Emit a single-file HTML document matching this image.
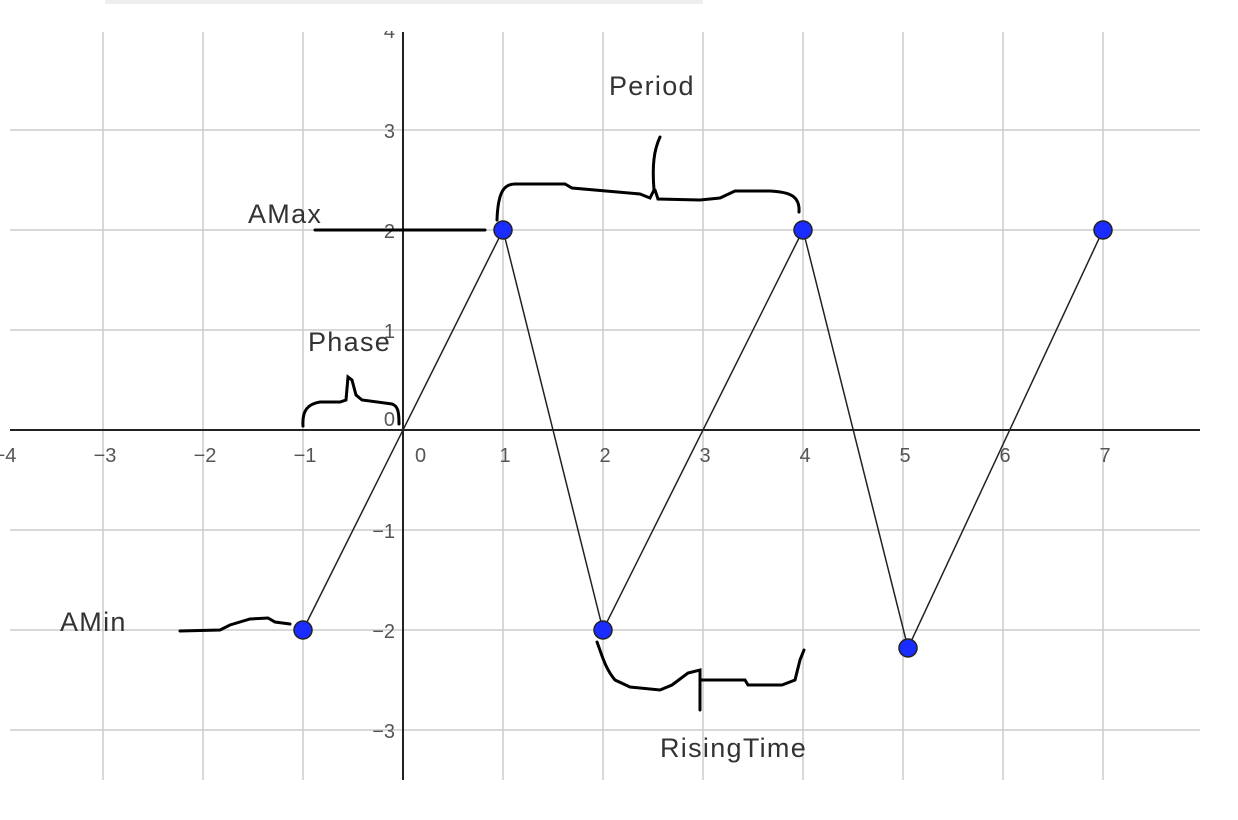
<!DOCTYPE html>
<html><head><meta charset="utf-8"><style>
html,body{margin:0;padding:0;background:#fff;}
svg{display:block;font-family:"Liberation Sans",sans-serif;}
</style></head><body>
<svg id="chart" width="1238" height="820">
<defs><clipPath id="plotclip"><rect x="0" y="31" width="1200" height="760"/></clipPath></defs>
<rect x="105" y="0" width="598" height="4" fill="#eeeeee"/>
<g id="grid"></g>
<g id="axes"></g>
<g id="ticks" clip-path="url(#plotclip)"></g>
<g id="series"></g>
<g fill="none" stroke="#000" stroke-width="3" stroke-linecap="round">
<path d="M315 230 L485 230"/>
<path d="M497 220 C498 190 505 184 515 184 L565 184 L572 188 L640 194 L650 198 L654 190 C652 165 654 150 660 137 M655 190 L658 199 L700 200 L720 198 L735 191 L770 191 C790 192 800 196 799 212"/>
<path d="M303 426 C302 410 308 404 320 402 L340 402 L346 400 L348 377 L352 380 L356 395 L362 400 L392 404 C398 406 399 412 399 424"/>
<path d="M180 631 L220 630 L230 625 L250 619 L268 618 L275 622 L290 624"/>
<path d="M597 642 C602 655 605 668 615 680 L630 687 L660 690 L672 685 L688 673 L700 670 L700 710 M700 680 L745 680 L748 685 L782 685 L795 680 L800 660 L804 650"/>
</g>
<g font-size="27" fill="#333" letter-spacing="1.3">
<text x="609" y="95">Period</text>
<text x="248" y="223">AMax</text>
<text x="308" y="351">Phase</text>
<text x="60" y="631">AMin</text>
<text x="660" y="757">RisingTime</text>
</g>
</svg>
<script>
const xTicks=[-4,-3,-2,-1,0,1,2,3,4,5,6,7,8];
const yTicks=[-3,-2,-1,0,1,2,3,4];
const pointX=[-1,1,2,4,5.05,7];
const pointY=[-2,2,-2,2,-2.18,2];
const NS="http://www.w3.org/2000/svg";
const X=v=>403+v*100, Y=v=>430-v*100;
function mk(tag,attrs,parent){const e=document.createElementNS(NS,tag);for(const k in attrs)e.setAttribute(k,attrs[k]);parent.appendChild(e);return e;}
const grid=document.getElementById('grid'),axes=document.getElementById('axes'),ticks=document.getElementById('ticks'),series=document.getElementById('series');
xTicks.forEach(t=>{if(t===0)return;const x=X(t);if(x<50||x>1195)return;
 const l=mk('line',{x1:x,x2:x,y1:32,y2:780,stroke:'#cccccc','stroke-width':1.5},grid);
 
 
});
yTicks.forEach(t=>{if(t===0)return;const y=Y(t);if(y<40)return;
 const l=mk('line',{x1:10,x2:1200,y1:y,y2:y,stroke:'#cccccc','stroke-width':1.5},grid);
 
 
});
const xa=mk('line',{x1:10,x2:1200,y1:Y(0),y2:Y(0),stroke:'#222','stroke-width':2},axes);


const ya=mk('line',{x1:X(0),x2:X(0),y1:32,y2:780,stroke:'#222','stroke-width':2},axes);


xTicks.forEach(t=>{const x=X(t);
 const tx=mk('text',{x:x+(t===0?12:2),y:462,'text-anchor':t===0?'start':'middle','font-size':20,fill:'#555'},ticks);
 tx.textContent=t<0?'\u2212'+(-t):String(t);
 
 
});
yTicks.forEach(t=>{const y=Y(t);
 const tx=mk('text',{x:X(0)-8,y:y+(t===0?-4:8),'text-anchor':'end','font-size':20,fill:'#555'},ticks);
 tx.textContent=t<0?'\u2212'+(-t):String(t);
 
 
});
const pl=mk('polyline',{points:pointX.map((v,i)=>X(v)+','+Y(pointY[i])).join(' '),fill:'none',stroke:'#222','stroke-width':1.5},series);


pointX.forEach((v,i)=>{
 const c=mk('circle',{cx:X(v),cy:Y(pointY[i]),r:9,fill:'#1a2cff',stroke:'#222','stroke-width':1.5},series);
 
 
});
</script>
</body></html>
